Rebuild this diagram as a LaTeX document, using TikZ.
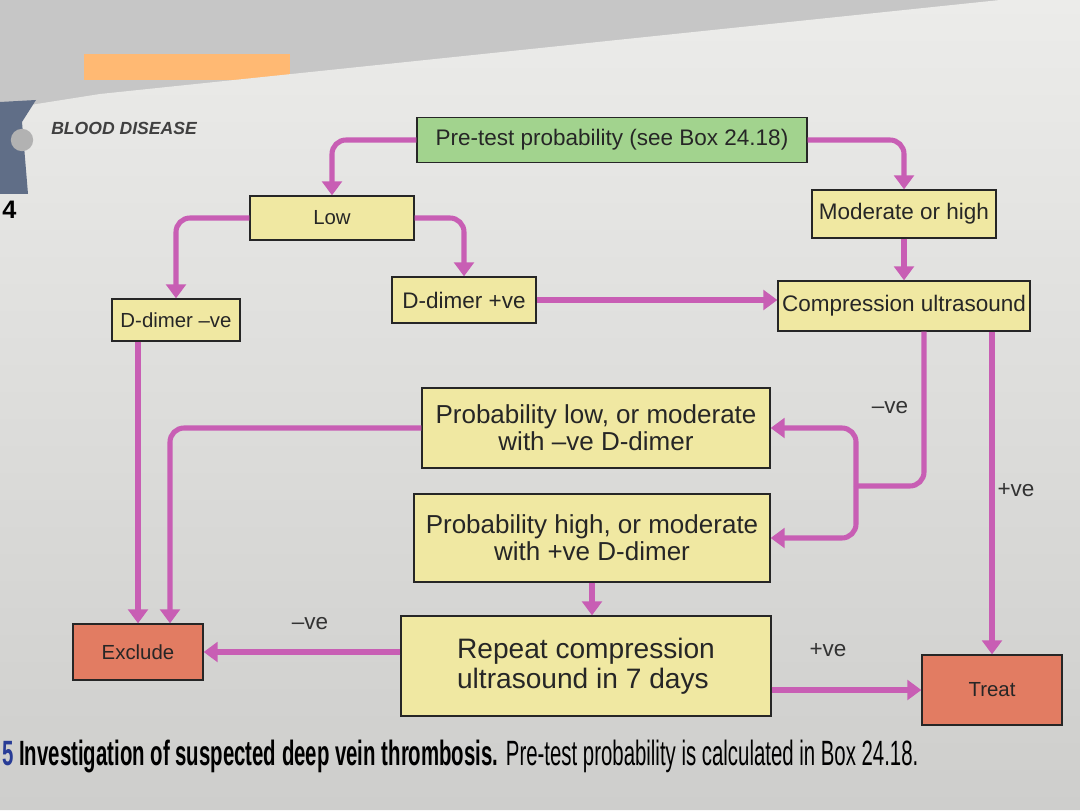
\documentclass[tikz,border=0pt]{standalone}
\usepackage{fontspec}
\setmainfont{Liberation Sans}
\usetikzlibrary{arrows.meta}

\definecolor{boxyellow}{RGB}{240,232,162}
\definecolor{boxgreen}{RGB}{162,211,142}
\definecolor{boxsalmon}{RGB}{226,124,98}
\definecolor{flowpink}{RGB}{200,94,180}
\definecolor{pagetop}{RGB}{236,236,234}
\definecolor{pagebot}{RGB}{206,206,204}
\definecolor{slate}{RGB}{96,110,135}
\definecolor{capblue}{RGB}{40,60,150}

\tikzset{
  box/.style={draw=black!85, line width=0.9pt, fill=boxyellow, align=center,
    inner sep=2pt, text=black!85, font=\fontsize{16}{19}\selectfont},
  bigbox/.style={box, font=\fontsize{18.5}{19}\selectfont},
  smallbox/.style={box, font=\fontsize{14.5}{17}\selectfont},
  flow/.style={draw=flowpink, line width=3.6pt, rounded corners=10pt,
    -{Triangle[width=14pt,length=10pt]}},
  lbl/.style={text=black!80, font=\fontsize{16}{19}\selectfont},
}

\begin{document}
\begin{tikzpicture}
  \useasboundingbox (0,0) rectangle (27,20.25);

  % Page
  \fill[gray!45] (0,0) rectangle (27,20.25);
  \fill[orange!55] (2.1,18.25) rectangle (7.25,18.9);
  \shade[top color=pagetop, bottom color=pagebot]
    (0,0) -- (0,15.4) -- (0.6,17.6) -- (2.5,17.9) -- (25,20.25) -- (27,20.25) -- (27,0) -- cycle;
  \fill[slate] (0,15.4) -- (0,17.7) -- (0.9,17.75) -- (0.55,17.2) -- (0.7,15.4) -- cycle;
  \fill[gray!60] (0.55,16.75) circle (0.28);
  \node[font=\fontsize{18}{20}\selectfont\bfseries, anchor=west, inner sep=1pt] (tab) at (0.02,15.0) {4};

  % Header
  \node[font=\fontsize{12.5}{14}\selectfont\bfseries\itshape, text=black!75] (head) at (3.1,17.05) {BLOOD DISEASE};

  % Boxes
  \node[box, fill=boxgreen, minimum width=9.75cm, minimum height=1.12cm] (pretest) at (15.3,16.75) {Pre-test probability (see Box 24.18)};
  \node[smallbox, minimum width=4.1cm, minimum height=1.1cm] (low) at (8.3,14.8) {Low};
  \node[box, minimum width=4.6cm, minimum height=1.2cm] (modhigh) at (22.6,14.9) {Moderate or high};
  \node[smallbox, minimum width=3.2cm, minimum height=1.05cm] (ddneg) at (4.4,12.25) {D-dimer --ve};
  \node[box, minimum width=3.6cm, minimum height=1.15cm] (ddpos) at (11.6,12.75) {D-dimer +ve};
  \node[box, minimum width=6.3cm, minimum height=1.25cm] (cus) at (22.6,12.6) {Compression ultrasound};
  \node[bigbox, minimum width=8.7cm, minimum height=2cm] (problow) at (14.9,9.55) {Probability low, or moderate\\with --ve D-dimer};
  \node[bigbox, minimum width=8.9cm, minimum height=2.2cm] (probhigh) at (14.8,6.8) {Probability high, or moderate\\with +ve D-dimer};
  \node[smallbox, fill=boxsalmon, minimum width=3.25cm, minimum height=1.4cm] (excl) at (3.45,3.95) {Exclude};
  \node[bigbox, font=\fontsize{20}{21}\selectfont, align=left, minimum width=9.25cm, minimum height=2.5cm] (repeat) at (14.65,3.6) {Repeat compression\\ultrasound in 7 days};
  \node[smallbox, fill=boxsalmon, minimum width=3.5cm, minimum height=1.75cm] (treat) at (24.8,3.0) {Treat};

  % Arrows
  \draw[flow] (pretest.west) -| (low.north);
  \draw[flow] (pretest.east) -| (modhigh.north);
  \draw[flow] (modhigh.south) -- (cus.north);
  \draw[flow] (low.west) -| (ddneg.north);
  \draw[flow] (low.east) -| (ddpos.north);
  \draw[flow] (ddpos.east) -- (ddpos.east -| cus.west);
  \draw[flow] (ddneg.south -| excl.north) -- (excl.north);
  \draw[flow] (problow.west) -| ([xshift=0.8cm]excl.north);

  % Ultrasound result
  \coordinate (split) at (21.4,8.1);
  \draw[flow, -] ([xshift=0.5cm]cus.south) |- (split);
  \draw[flow] (split) |- (problow.east);
  \draw[flow] (split) |- (probhigh.east);
  \draw[flow] (cus.south -| treat.north) -- (treat.north);
  \node[lbl] (cusneg) at (22.25,10.05) {--ve};
  \node[lbl] (cuspos) at (25.4,8.0) {+ve};

  % Repeat scan
  \draw[flow] (probhigh.south) -- (probhigh.south |- repeat.north);
  \draw[flow] (excl.east -| repeat.west) -- (excl.east);
  \draw[flow] (treat.west -| repeat.east) -- (treat.west);
  \node[lbl] (repneg) at (7.75,4.65) {--ve};
  \node[lbl] (reppos) at (20.7,4.0) {+ve};

  % Caption
  \node[anchor=west, inner sep=0pt] (caption) at (0.05,1.35) {\scalebox{0.58}[1]{\fontsize{25}{28}\selectfont
    {\bfseries\color{capblue}5} {\bfseries Investigation of suspected deep vein thrombosis.} Pre-test probability is calculated in Box 24.18.}};
\end{tikzpicture}
\end{document}
